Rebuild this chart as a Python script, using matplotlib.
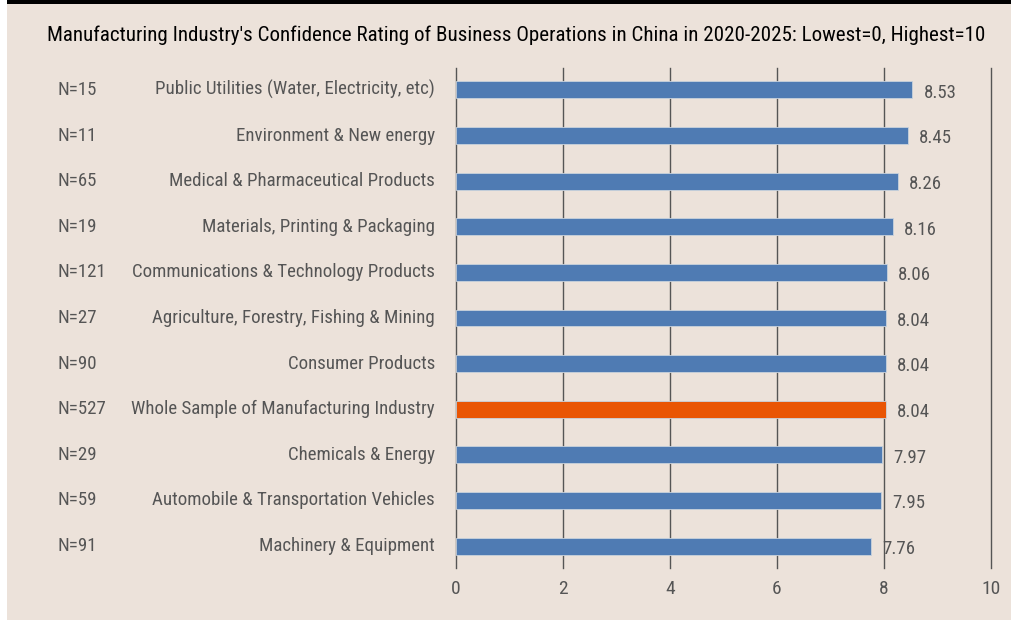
import matplotlib.pyplot as plt
from matplotlib.patches import Rectangle

# ---- Survey data ----
categories = [
    "Public Utilities (Water, Electricity, etc)",
    "Environment & New energy",
    "Medical & Pharmaceutical Products",
    "Materials, Printing & Packaging",
    "Communications & Technology Products",
    "Agriculture, Forestry, Fishing & Mining",
    "Consumer Products",
    "Whole Sample of Manufacturing Industry",
    "Chemicals & Energy",
    "Automobile & Transportation Vehicles",
    "Machinery & Equipment",
]
sample_sizes = [15, 11, 65, 19, 121, 27, 90, 527, 29, 59, 91]
scores = [8.53, 8.45, 8.26, 8.16, 8.06, 8.04, 8.04, 8.04, 7.97, 7.95, 7.76]
highlight = "Whole Sample of Manufacturing Industry"
x_ticks = [0, 2, 4, 6, 8, 10]

bg = "#ece2da"
blue = "#4f7bb3"
orange = "#e95504"
grey = "#555555"

plt.rcParams["font.family"] = ["Roboto Condensed", "DejaVu Sans"]

fig = plt.figure(figsize=(10.12, 6.2), dpi=100, facecolor=bg)
# white strip on the left, black rule along the top
fig.patches.append(Rectangle((0, 0), 7 / 1012, 1, transform=fig.transFigure,
                             facecolor="white", edgecolor="none", zorder=0))
fig.patches.append(Rectangle((7 / 1012, 1 - 4 / 620), 1, 4 / 620, transform=fig.transFigure,
                             facecolor="black", edgecolor="none", zorder=0))

ax = fig.add_axes([456 / 1012, 1 - 568 / 620, 535 / 1012, 500 / 620])
ax.set_facecolor(bg)

ypos = list(range(len(categories)))
colors = [orange if c == highlight else blue for c in categories]
ax.barh(ypos, scores, height=0.37, color=colors, edgecolor="#c9d2dc",
        linewidth=0.6, zorder=3)

fs = 13.6
for y, v in zip(ypos, scores):
    ax.annotate(f"{v:.2f}", xy=(v, y), xytext=(8, -2), textcoords="offset points",
                ha="left", va="center", fontsize=fs, color=grey)

for y, c, n in zip(ypos, categories, sample_sizes):
    ax.annotate(c, xy=(0, y), xycoords=("axes fraction", "data"),
                xytext=(-21, 0), textcoords="offset pixels",
                ha="right", va="center", fontsize=fs, color=grey)
    ax.annotate(f"N={n}", xy=(58 / 1012, y), xycoords=("figure fraction", "data"),
                ha="left", va="center", fontsize=fs, color=grey)

ax.set_xlim(0, 10)
ax.set_ylim(len(categories) - 1 + 0.48, -0.48)
ax.set_xticks(x_ticks)
ax.set_xticklabels([str(t) for t in x_ticks], fontsize=14, color=grey)
ax.set_yticks([])
ax.tick_params(axis="x", length=0, pad=9)
for t in x_ticks:
    ax.axvline(t, color="#555555", linewidth=1.0, zorder=1, clip_on=False)
for s in ax.spines.values():
    s.set_visible(False)

fig.text(516 / 1012, 1 - 35 / 620,
         "Manufacturing Industry's Confidence Rating of Business Operations in China in 2020-2025: Lowest=0, Highest=10",
         ha="center", va="center", fontsize=15.1, color="black")

fig.savefig("out.png", dpi=100, facecolor=bg)
